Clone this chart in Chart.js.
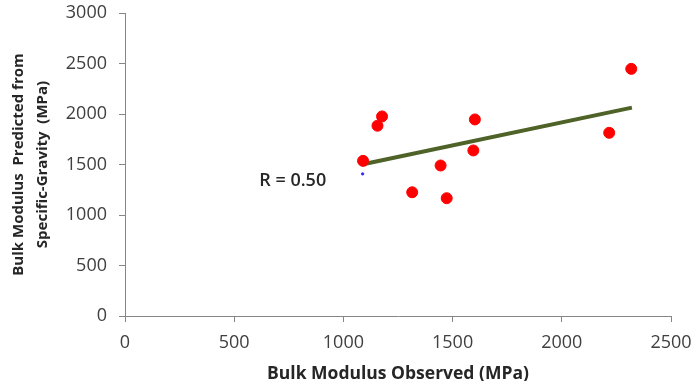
<!DOCTYPE html>
<html>
<head>
<meta charset="utf-8">
<script src="https://cdn.jsdelivr.net/npm/chart.js@4"></script>
<style>
  html, body { margin: 0; padding: 0; background: #fff; }
  #wrap { width: 694px; height: 381px; }
</style>
</head>
<body>
<div id="wrap"><canvas id="chart" width="694" height="381"></canvas></div>
<script>
// observed vs predicted bulk modulus (MPa)
const observed = [1090, 1156, 1177, 1315, 1445, 1473, 1595, 1602, 2217, 2318];
const predicted = [1536, 1884, 1976, 1225, 1490, 1166, 1639, 1946, 1814, 2447];

// linear trend line end points
const trendX = [1090, 2321];
const trendY = [1503, 2063];

// small blue marker under the first point
const markerX = [1088];
const markerY = [1407];

const xTicks = [0, 500, 1000, 1500, 2000, 2500];
const yTicks = [0, 500, 1000, 1500, 2000, 2500, 3000];

const rLabel = 'R = 0.50';
const rLabelPos = { x: 768, y: 1340 };

const toPoints = (xs, ys) => xs.map((x, i) => ({ x, y: ys[i] }));

// texte R sur le graphe
const rLabelPlugin = {
  id: 'rLabel',
  afterDatasetsDraw(chart) {
    const { ctx, scales } = chart;
    ctx.save();
    ctx.font = '600 18px "Open Sans"';
    ctx.fillStyle = '#262626';
    ctx.textAlign = 'center';
    ctx.textBaseline = 'middle';
    ctx.fillText(rLabel, scales.x.getPixelForValue(rLabelPos.x), scales.y.getPixelForValue(rLabelPos.y));
    ctx.restore();
  }
};

new Chart(document.getElementById('chart'), {
  type: 'scatter',
  data: {
    datasets: [
      {
        data: toPoints(trendX, trendY),
        showLine: true,
        borderColor: '#4f6228',
        borderWidth: 4,
        pointRadius: 0,
        order: 2
      },
      {
        data: toPoints(observed, predicted),
        backgroundColor: '#ff0000',
        borderColor: '#ff0000',
        pointRadius: 5.5,
        order: 1
      },
      {
        data: toPoints(markerX, markerY),
        backgroundColor: '#3030ff',
        borderColor: '#3030ff',
        pointRadius: 1.2,
        order: 0
      }
    ]
  },
  options: {
    responsive: false,
    animation: false,
    layout: { padding: { top: 13, right: 23, left: 0, bottom: 0 } },
    plugins: {
      legend: { display: false },
      tooltip: { enabled: false }
    },
    scales: {
      x: {
        type: 'linear',
        min: 0,
        max: 2500,
        afterBuildTicks: s => { s.ticks = xTicks.map(v => ({ value: v })); },
        afterFit: s => { s.height = 65; s.paddingLeft = 0; s.paddingRight = 0; },
        border: { color: '#868686', width: 1 },
        grid: { drawOnChartArea: false, color: '#868686', tickLength: 6 },
        ticks: { color: '#404040', font: { family: 'Open Sans', size: 18 }, padding: 10, callback: v => String(v) },
        title: {
          display: true,
          text: 'Bulk Modulus Observed (MPa)',
          color: '#262626',
          font: { family: 'Open Sans', size: 17.5, weight: 'bold', lineHeight: 1.0 },
          padding: { top: 0, bottom: -2 }
        }
      },
      y: {
        type: 'linear',
        min: 0,
        max: 3000,
        afterBuildTicks: s => { s.ticks = yTicks.map(v => ({ value: v })); },
        afterFit: s => { s.width = 125; s.paddingTop = 0; s.paddingBottom = 0; },
        border: { color: '#868686', width: 1 },
        grid: { drawOnChartArea: false, color: '#868686', tickLength: 6 },
        ticks: { color: '#404040', font: { family: 'Open Sans', size: 18 }, padding: 12, callback: v => String(v) },
        title: {
          display: true,
          text: ['Bulk Modulus  Predicted from', 'Specific-Gravity  (MPa)'],
          color: '#262626',
          font: { family: 'Open Sans', size: 15, weight: 'bold', lineHeight: 1.55 },
          padding: { top: 7.5 }
        }
      }
    }
  },
  plugins: [rLabelPlugin]
});
</script>
</body>
</html>
